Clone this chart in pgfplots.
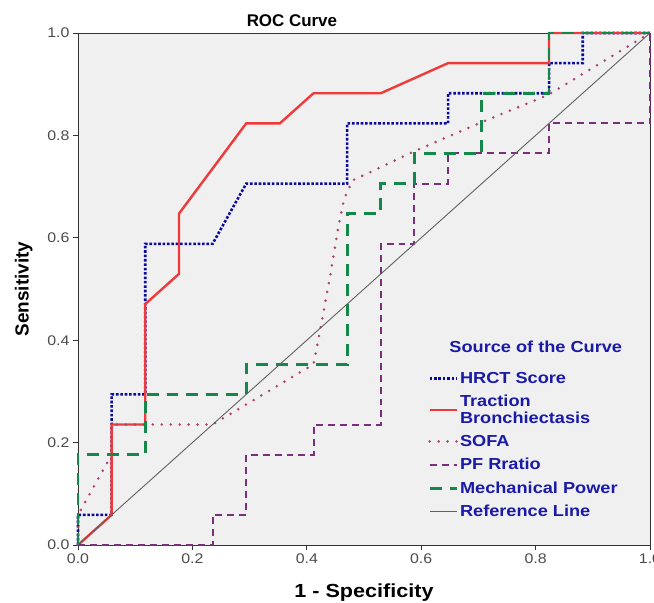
\documentclass[border=0pt]{standalone}
\usepackage{pgfplots}
\pgfplotsset{compat=1.18}
\usepackage{fontspec}
\setmainfont{Liberation Sans}
\newfontfamily\widefont[FakeStretch=1.14]{Liberation Sans}

\definecolor{hrct}{HTML}{0A0AA0}
\definecolor{traction}{HTML}{EE3A3A}
\definecolor{sofa}{HTML}{B0406E}
\definecolor{pfratio}{HTML}{7A2E7E}
\definecolor{mechpow}{HTML}{14884A}
\definecolor{refline}{HTML}{606060}
\definecolor{legtext}{HTML}{1A1AA8}
\definecolor{bggray}{HTML}{F0F0F0}

\begin{document}
\begin{tikzpicture}[x=1bp,y=1bp]
  \useasboundingbox (-78bp,-58bp) rectangle (576bp,545bp);
  \begin{axis}[
      scale only axis,
      width=572bp,
      height=512bp,
      xmin=0, xmax=1,
      ymin=0, ymax=1,
      xtick={0,0.2,0.4,0.6,0.8,1},
      ytick={0,0.2,0.4,0.6,0.8,1},
      xtick pos=left,
      ytick pos=left,
      /pgf/number format/assume math mode=true,
      /pgf/number format/fixed,
      /pgf/number format/fixed zerofill,
      /pgf/number format/precision=1,
      tick label style={font=\widefont\fontsize{14}{16}\selectfont, text=black!70},
      tick align=outside,
      major tick length=5bp,
      tick style={black!80, line width=0.8pt},
      axis line style={black!80, line width=0.9pt},
      axis background/.style={fill=bggray},
      xlabel={\bfseries 1 - Specificity},
      ylabel={\bfseries Sensitivity},
      xlabel style={font=\widefont\fontsize{19}{21}\selectfont, yshift=-14bp},
      ylabel style={font=\fontsize{19}{21}\selectfont, yshift=8bp},
      legend style={
          at={(rel axis cs:0.612,0.342)},
          anchor=north west,
          draw=none, fill=none,
          inner sep=0pt,
          font=\widefont\bfseries\fontsize{16}{16.5}\selectfont,
          text=legtext,
          cells={align=left, anchor=west},
          row sep=6.5bp,
        },
      legend image code/.code={\draw[#1] (0bp,0bp) -- (27bp,0bp);},
      clip=false,
    ]

    % HRCT Score
    \addplot[hrct, line width=2.6pt, dash pattern=on 2.6pt off 1.8pt] coordinates {
        (0,0) (0,0.0588) (0.0588,0.0588) (0.0588,0.2941) (0.1176,0.2941)
        (0.1176,0.5882) (0.2353,0.5882) (0.2941,0.7059) (0.4706,0.7059)
        (0.4706,0.8235) (0.6471,0.8235) (0.6471,0.8824) (0.8235,0.8824)
        (0.8235,0.9412) (0.8824,0.9412) (0.8824,1) (1,1)
      };
    \addlegendentry{HRCT Score}

    % Traction Bronchiectasis
    \addplot[traction, line width=2.4pt] coordinates {
        (0,0) (0.0588,0.0588) (0.0588,0.2353) (0.1176,0.2353) (0.1176,0.4706)
        (0.1765,0.5294) (0.1765,0.6471) (0.2941,0.8235) (0.3529,0.8235)
        (0.4118,0.8824) (0.5294,0.8824) (0.6471,0.9412) (0.8235,0.9412)
        (0.8235,1) (1,1)
      };
    \addlegendentry{Traction\\Bronchiectasis}

    % SOFA
    \addplot[sofa, line width=2.8pt, line cap=round, dash pattern=on 0pt off 9pt] coordinates {
        (0,0) (0,0.0588) (0.0588,0.1765) (0.0588,0.2353) (0.2353,0.2353)
        (0.4118,0.3529) (0.42,0.40) (0.43,0.46) (0.44,0.52) (0.455,0.62)
        (0.465,0.675) (0.48,0.712) (0.59,0.77) (0.706,0.826) (0.822,0.879) (1,1)
      };
    \addlegendentry{SOFA}

    % PF Rratio
    \addplot[pfratio, line width=2pt, dash pattern=on 7pt off 5pt] coordinates {
        (0,0) (0.2353,0) (0.2353,0.0588) (0.2941,0.0588) (0.2941,0.1765)
        (0.4118,0.1765) (0.4118,0.2353) (0.5294,0.2353) (0.5294,0.5882)
        (0.5882,0.5882) (0.5882,0.7059) (0.6471,0.7059) (0.6471,0.7647)
        (0.8235,0.7647) (0.8235,0.8235) (1,0.8235) (1,1)
      };
    \addlegendentry{PF Rratio}

    % Mechanical Power
    \addplot[mechpow, line width=2.8pt, dash pattern=on 12pt off 8pt] coordinates {
        (0,0) (0,0.1765) (0.1176,0.1765) (0.1176,0.2941) (0.2941,0.2941)
        (0.2941,0.3529) (0.4706,0.3529) (0.4706,0.6471) (0.5294,0.6471)
        (0.5294,0.7059) (0.5882,0.7059) (0.5882,0.7647) (0.7059,0.7647)
        (0.7059,0.8824) (0.8235,0.8824) (0.8235,1) (1,1)
      };
    \addlegendentry{Mechanical Power}

    % Reference Line
    \addplot[refline, line width=0.9pt] coordinates {(0,0) (1,1)};
    \addlegendentry{Reference Line}

    \node[anchor=west, text=legtext, font=\widefont\bfseries\fontsize{16}{18}\selectfont, inner sep=0pt]
      at (rel axis cs:0.649,0.387) {Source of the Curve};
    \node[font=\bfseries\fontsize{17}{19}\selectfont, inner sep=0pt]
      at (rel axis cs:0.374,1.024) {ROC Curve};
  \end{axis}
\end{tikzpicture}
\end{document}
